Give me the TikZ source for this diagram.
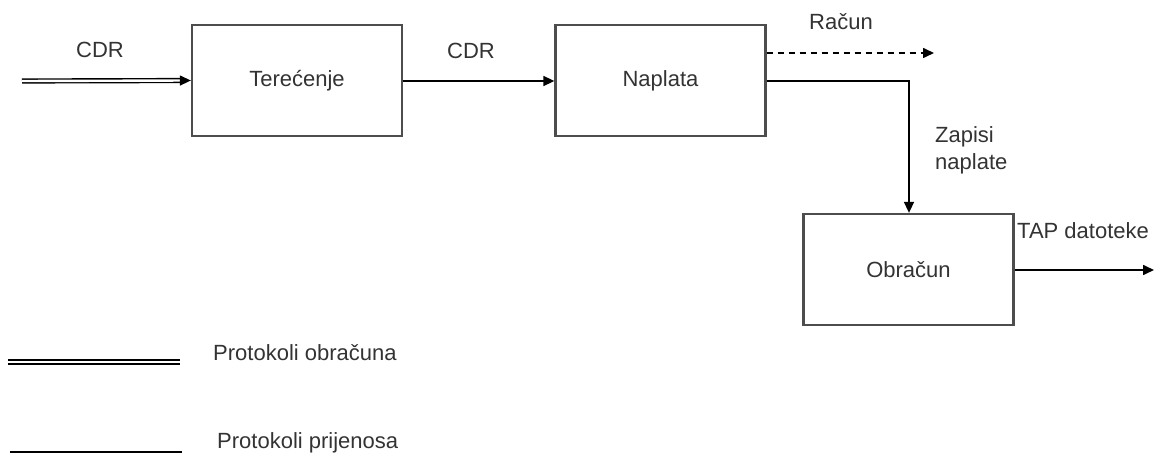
\documentclass[tikz,border=0pt]{standalone}
\usepackage{fontspec}
\setmainfont{Liberation Sans}
\usetikzlibrary{arrows.meta}
\definecolor{boxgray}{HTML}{4D4D4D}
\definecolor{textgray}{HTML}{333333}
\tikzset{
	stage/.style={draw=boxgray, line width=2.3pt, minimum width=210pt, minimum height=111pt, inner sep=0pt, text=textgray},
	flow/.style={line width=1.6pt, -{Triangle[length=11pt,width=10pt]}},
	label/.style={text=textgray, inner sep=0pt}
}
\begin{document}
\begin{tikzpicture}[x=1pt, y=-1pt, font=\fontsize{22}{27}\selectfont]
		\useasboundingbox (0,0) rectangle (1160,457);
		\node[stage] (terecenje) at (297,80.5) {Terećenje};
		\node[stage] (naplata) at (660.5,80.5) {Naplata};
		\node[stage] (obracun) at (908.5,269.5) {Obračun};
		\coordinate (cdrin) at (22,81);
		\coordinate (racun) at (934,53);
		\coordinate (tapout) at (1154,270);
		\coordinate (turn) at (909,81);
		\draw[flow, double, double distance=2.4pt, line width=1.4pt] (cdrin) -- (terecenje.west);
		\draw[flow] (terecenje.east |- 0,81) -- (naplata.west |- 0,81);
		\draw[flow, dashed, dash pattern=on 6pt off 5pt] (naplata.east |- 0,53) -- (racun);
		\draw[flow] (naplata.east |- 0,81) -- (turn) -- (turn |- obracun.north);
		\draw[flow] (obracun.east |- tapout) -- (tapout);
		\node[label] (cdr1) at (100,50) {CDR};
		\node[label] (cdr2) at (471,51) {CDR};
		\node[label] (racunlbl) at (841,22) {Račun};
		\node[label, anchor=west, align=left] (zapisi) at (935,150) {Zapisi\\naplate};
		\node[label, anchor=west] (tap) at (1017,231) {TAP datoteke};
		% legenda
		\coordinate (leg1a) at (8,362);
		\coordinate (leg1b) at (180,362);
		\coordinate (leg2a) at (10,452);
		\coordinate (leg2b) at (182,452);
		\draw[double, double distance=2.4pt, line width=1.4pt] (leg1a) -- (leg1b);
		\draw[line width=1.6pt] (leg2a) -- (leg2b);
		\node[label, anchor=west] (leg1) at (213,353) {Protokoli obračuna};
		\node[label, anchor=west] (leg2) at (217,443) {Protokoli prijenosa};
	\end{tikzpicture}
\end{document}
